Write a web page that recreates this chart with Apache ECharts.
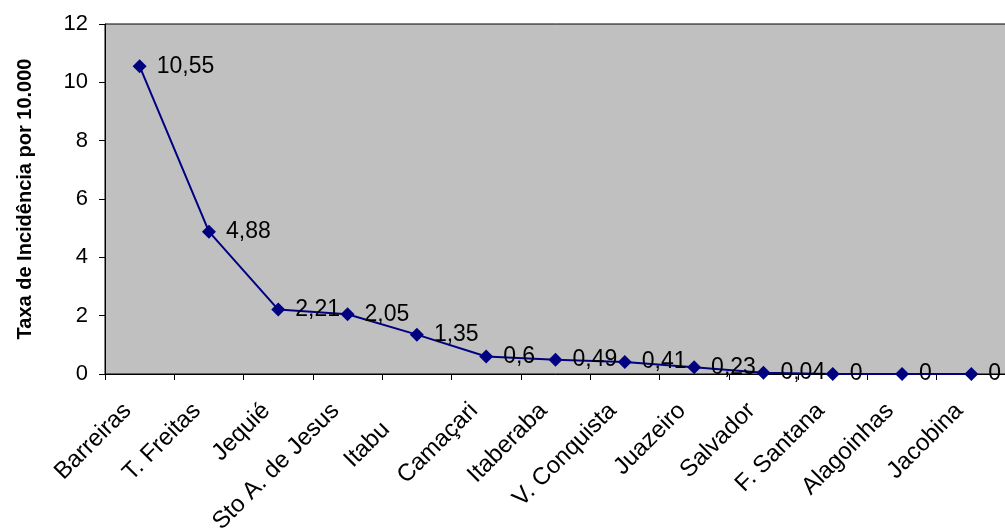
<!DOCTYPE html>
<html>
<head>
<meta charset="utf-8">
<script src="https://cdn.jsdelivr.net/npm/echarts@6/dist/echarts.min.js"></script>
<style>
html,body{margin:0;padding:0;background:#fff;}
#chart{width:1005px;height:531px;}
</style>
</head>
<body>
<div id="chart"></div>
<script>
const categories = ['Barreiras','T. Freitas','Jequié','Sto A. de Jesus','Itabuna','Camaçari','Itaberaba','V. Conquista','Juazeiro','Salvador','F. Santana','Alagoinhas','Jacobina'];
const values = [10.55, 4.88, 2.21, 2.05, 1.35, 0.6, 0.49, 0.41, 0.23, 0.04, 0, 0, 0];
const yTicks = [0, 2, 4, 6, 8, 10, 12];
const yTitle = 'Taxa de Incidência por 10.000';

const FONT = '"Liberation Sans", Arial, sans-serif';
const chart = echarts.init(document.getElementById('chart'));
chart.setOption({
  animation: false,
  backgroundColor: '#ffffff',
  grid: {
    left: 105, top: 24, width: 901, height: 350,
    outerBoundsMode: 'none', containLabel: false,
    show: true, backgroundColor: '#C0C0C0', borderColor: '#000000', borderWidth: 1
  },
  xAxis: {
    type: 'category',
    data: categories,
    boundaryGap: true,
    axisLine: {lineStyle: {color: '#000', width: 1}},
    axisTick: {show: true, alignWithLabel: false, length: 6, lineStyle: {color: '#000'}},
    axisLabel: {
      rotate: 45, interval: 0, margin: 21,
      padding: [0, 17, 0, 0],
      color: '#000', fontFamily: FONT, fontSize: 24,
      formatter: function (v) {
        if (v === 'Itabuna') return '{v|Itabu}{h|na}';
        return v;
      },
      rich: {
        v: {color: '#000', fontFamily: FONT, fontSize: 24},
        h: {color: 'rgba(0,0,0,0)', fontFamily: FONT, fontSize: 24}
      }
    },
    splitLine: {show: false}
  },
  yAxis: {
    type: 'value',
    min: yTicks[0], max: yTicks[yTicks.length - 1], interval: 2,
    name: yTitle,
    nameLocation: 'middle',
    nameGap: 70,
    nameTextStyle: {color: '#000', fontFamily: FONT, fontSize: 20, fontWeight: 'bold'},
    axisLine: {show: true, lineStyle: {color: '#000', width: 1}},
    axisTick: {show: true, length: 6, lineStyle: {color: '#000'}},
    axisLabel: {color: '#000', fontFamily: FONT, fontSize: 22, margin: 17},
    splitLine: {show: false}
  },
  series: [{
    type: 'line',
    data: values,
    symbol: 'diamond',
    symbolSize: 14,
    showAllSymbol: true,
    lineStyle: {color: '#000080', width: 2},
    itemStyle: {color: '#000080'},
    label: {
      show: true, position: 'right', distance: 10,
      color: '#000', fontFamily: FONT, fontSize: 23,
      formatter: function (p) { return String(p.value).replace('.', ','); }
    }
  }]
});
</script>
</body>
</html>
